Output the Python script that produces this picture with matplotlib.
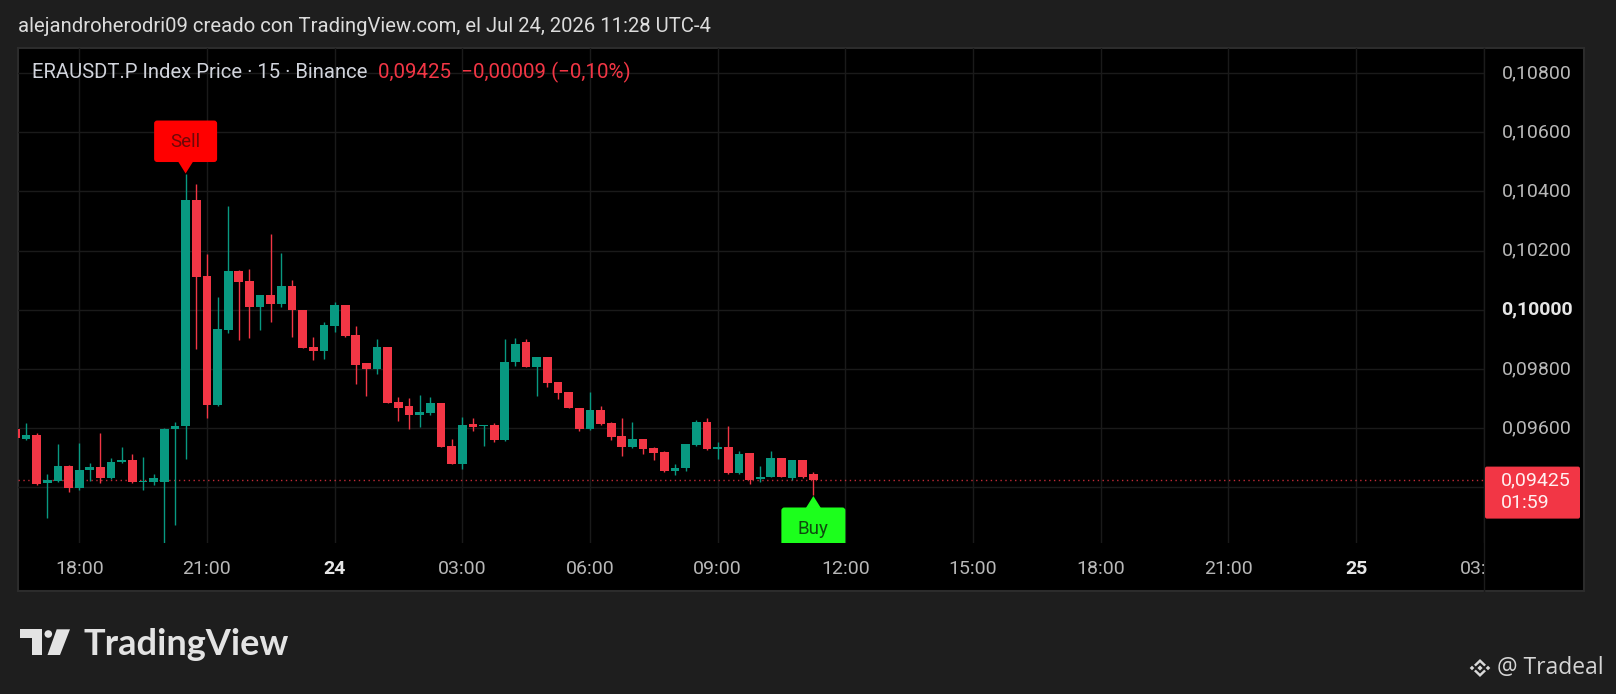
import matplotlib
matplotlib.use("Agg")
import matplotlib.pyplot as plt
import matplotlib.transforms as mtransforms
from matplotlib.patches import Rectangle, FancyBboxPatch, Polygon, Circle
import numpy as np

W, H = 1616, 694

# ERAUSDT.P 15m candles, Jul 23 16:30 -> Jul 24 11:15
opens = [0.09597, 0.09565, 0.09576, 0.09414, 0.09421, 0.09472, 0.09397, 0.09458, 0.09470, 0.09433,
         0.09486, 0.09493, 0.09419, 0.09420, 0.09420, 0.09597, 0.09608, 0.10371, 0.10113, 0.09679,
         0.09932, 0.10130, 0.10096, 0.10009, 0.10049, 0.10020, 0.10082, 0.10000, 0.09873, 0.09862,
         0.09947, 0.10015, 0.09915, 0.09820, 0.09802, 0.09876, 0.09689, 0.09674, 0.09644, 0.09650,
         0.09687, 0.09540, 0.09478, 0.09614, 0.09608, 0.09610, 0.09559, 0.09823, 0.09890, 0.09808,
         0.09840, 0.09757, 0.09722, 0.09669, 0.09597, 0.09661, 0.09618, 0.09573, 0.09537, 0.09563,
         0.09533, 0.09520, 0.09455, 0.09466, 0.09542, 0.09620, 0.09531, 0.09537, 0.09449, 0.09516,
         0.09428, 0.09437, 0.09501, 0.09432, 0.09492, 0.09444]
highs = [0.09600, 0.09619, 0.09585, 0.09444, 0.09548, 0.09475, 0.09551, 0.09484, 0.09585, 0.09498,
         0.09537, 0.09514, 0.09503, 0.09446, 0.09600, 0.09621, 0.10459, 0.10425, 0.10190, 0.10043,
         0.10350, 0.10135, 0.10139, 0.10052, 0.10258, 0.10192, 0.10102, 0.10000, 0.09910, 0.09958,
         0.10028, 0.10015, 0.09946, 0.09820, 0.09900, 0.09876, 0.09706, 0.09704, 0.09712, 0.09706,
         0.09687, 0.09565, 0.09638, 0.09636, 0.09612, 0.09618, 0.09901, 0.09906, 0.09901, 0.09842,
         0.09840, 0.09757, 0.09722, 0.09669, 0.09723, 0.09675, 0.09620, 0.09636, 0.09621, 0.09565,
         0.09536, 0.09523, 0.09480, 0.09548, 0.09627, 0.09636, 0.09554, 0.09607, 0.09523, 0.09518,
         0.09472, 0.09523, 0.09501, 0.09494, 0.09494, 0.09452]
lows = [0.09562, 0.09562, 0.09410, 0.09297, 0.09418, 0.09385, 0.09393, 0.09421, 0.09416, 0.09430,
        0.09484, 0.09416, 0.09393, 0.09410, 0.09207, 0.09272, 0.09495, 0.09868, 0.09634, 0.09675,
        0.09921, 0.09898, 0.09905, 0.09932, 0.09958, 0.10009, 0.09907, 0.09870, 0.09830, 0.09834,
        0.09927, 0.09910, 0.09749, 0.09710, 0.09785, 0.09685, 0.09625, 0.09599, 0.09605, 0.09644,
        0.09537, 0.09478, 0.09463, 0.09591, 0.09539, 0.09554, 0.09556, 0.09810, 0.09806, 0.09708,
        0.09740, 0.09698, 0.09667, 0.09590, 0.09595, 0.09612, 0.09562, 0.09505, 0.09534, 0.09512,
        0.09492, 0.09453, 0.09441, 0.09455, 0.09540, 0.09526, 0.09497, 0.09447, 0.09447, 0.09412,
        0.09418, 0.09435, 0.09437, 0.09424, 0.09433, 0.09373]
closes = [0.09566, 0.09576, 0.09412, 0.09425, 0.09472, 0.09397, 0.09458, 0.09470, 0.09433, 0.09486,
          0.09493, 0.09419, 0.09420, 0.09433, 0.09597, 0.09608, 0.10371, 0.10111, 0.09679, 0.09936,
          0.10130, 0.10094, 0.10009, 0.10049, 0.10020, 0.10082, 0.09998, 0.09871, 0.09862, 0.09950,
          0.10015, 0.09913, 0.09815, 0.09802, 0.09876, 0.09687, 0.09670, 0.09644, 0.09655, 0.09687,
          0.09537, 0.09478, 0.09612, 0.09605, 0.09610, 0.09559, 0.09823, 0.09885, 0.09808, 0.09840,
          0.09754, 0.09720, 0.09667, 0.09597, 0.09661, 0.09614, 0.09571, 0.09537, 0.09563, 0.09529,
          0.09516, 0.09455, 0.09466, 0.09546, 0.09620, 0.09529, 0.09537, 0.09449, 0.09514, 0.09427,
          0.09437, 0.09501, 0.09437, 0.09492, 0.09436, 0.09425]

first_candle_hour = 16.5          # hours from Jul 23 00:00
candle_step = 0.25                # 15 minutes

price_ticks = [0.092, 0.094, 0.096, 0.098, 0.100, 0.102, 0.104, 0.106, 0.108]
time_tick_hours = [18, 21, 24, 27, 30, 33, 36, 39, 42, 45, 48, 51]
time_tick_labels = ["18:00", "21:00", "24", "03:00", "06:00", "09:00",
                    "12:00", "15:00", "18:00", "21:00", "25", "03:00"]
bold_time_labels = ["24", "25"]

last_price = 0.09425
countdown = "01:59"
header = "alejandroherodri09 creado con TradingView.com, el Jul 24, 2026 11:28 UTC-4"
legend_name = "ERAUSDT.P Index Price · 15 · Binance"
legend_values = "0,09425  \u22120,00009 (\u22120,10%)"

UP = "#089981"
DOWN = "#f23645"
GRID = "#1a1a1a"
TXT = "#d1d4dc"

plt.rcParams["font.family"] = ["Roboto", "DejaVu Sans"]


def fmt_price(v):
    return ("%.5f" % v).replace(".", ",")


def fx(x):
    return x / W


def fy(y):
    return 1 - y / H


fig = plt.figure(figsize=(W / 100, H / 100), dpi=100, facecolor="#1e1e1e")

# chart panel
fig.add_artist(Rectangle((fx(17.5), fy(591)), (1584 - 17.5) / W, (591 - 48) / H,
                         transform=fig.transFigure, facecolor="black",
                         edgecolor="#2c2c2c", linewidth=1.5, zorder=-5))
fig.add_artist(plt.Line2D([fx(1484), fx(1484)], [fy(591), fy(48)],
                          transform=fig.transFigure, color="#1c1c1c", lw=1, zorder=-4))

ax = fig.add_axes([fx(17.5), fy(543), (1484 - 17.5) / W, (543 - 48.4) / H])
ax.set_axis_off()
ax.set_xlim(16.55, 51.007)
ax.set_ylim(0.092125, 0.108834)

for p in price_ticks:
    ax.axhline(p, color=GRID, lw=1, zorder=0)
for h in time_tick_hours:
    ax.axvline(h, color=GRID, lw=1, zorder=0)

o = np.array(opens)
hi = np.array(highs)
lo = np.array(lows)
c = np.array(closes)
x = first_candle_hour + candle_step * np.arange(len(o))
cols = [UP if cc >= oo else DOWN for oo, cc in zip(o, c)]

ax.vlines(x, lo, hi, colors=cols, lw=1, zorder=2)
body = np.maximum(np.abs(c - o), 0.000035)
ax.bar(x, body, width=candle_step * 0.82, bottom=np.minimum(o, c), color=cols,
       linewidth=0, zorder=3)

ax.axhline(last_price, color=DOWN, lw=1, ls=(0, (1, 2.5)), alpha=0.8, zorder=1)

# sell / buy markers (drawn in pixels around the candle tip)
ident = mtransforms.IdentityTransform()
i_sell = int(np.argmax(hi))
sx, sy = ax.transData.transform((x[i_sell], hi[i_sell]))
ax.add_patch(FancyBboxPatch((sx - 31.5, sy + 12), 63, 41.5,
                            boxstyle="round,pad=0,rounding_size=3",
                            transform=ident, facecolor="#ff0000", edgecolor="none", zorder=5))
ax.add_patch(Polygon([(sx - 7.5, sy + 12.5), (sx, sy + 0.5), (sx + 7.5, sy + 12.5)],
                     transform=ident, facecolor="#ff0000", edgecolor="none", zorder=5))
ax.text(sx, sy + 32.5, "Sell", transform=ident, ha="center", va="center",
        fontsize=13.5, color="#6e0808", zorder=6)

i_buy = len(o) - 1
bx, by = ax.transData.transform((x[i_buy], lo[i_buy]))
ax.add_patch(FancyBboxPatch((bx - 32, by - 54), 64, 42,
                            boxstyle="round,pad=0,rounding_size=3",
                            transform=ident, facecolor="#1cff1c", edgecolor="none", zorder=5))
ax.add_patch(Polygon([(bx - 7.5, by - 12.5), (bx, by - 0.5), (bx + 7.5, by - 12.5)],
                     transform=ident, facecolor="#1cff1c", edgecolor="none", zorder=5))
ax.text(bx, by - 33.5, "Buy", transform=ident, ha="center", va="center",
        fontsize=13.5, color="#0f4a0f", zorder=6, clip_on=True)

# price scale
yblend = mtransforms.blended_transform_factory(fig.transFigure, ax.transData)
for p in price_ticks:
    if p < 0.0955:
        continue
    bold = abs(p - 0.1) < 1e-9
    fig.text(fx(1537), p, fmt_price(p), transform=yblend, ha="center", va="center",
             fontsize=14, color="#e6e6e6" if bold else "#b8b8b8",
             fontweight="bold" if bold else "normal")

py = ax.transData.transform((x[-1], last_price))[1]
fig.add_artist(FancyBboxPatch((1485, py - 38.5), 95, 52,
                              boxstyle="round,pad=0,rounding_size=2",
                              transform=ident, facecolor=DOWN, edgecolor="none", zorder=3))
fig.text(1501, py, fmt_price(last_price), transform=ident, ha="left", va="center",
         fontsize=14, color="#fff0f1", zorder=4)
fig.text(1501, py - 23, countdown, transform=ident, ha="left", va="center",
         fontsize=14, color="#fff0f1", zorder=4)

# time scale (labels clipped at the price scale, like the cut "03:" on the right)
tax = fig.add_axes([fx(17.5), fy(591), (1484 - 17.5) / W, (591 - 543) / H])
tax.set_axis_off()
tax.set_xlim(ax.get_xlim())
tax.set_ylim(0, 1)
for h, lab in zip(time_tick_hours, time_tick_labels):
    bold = lab in bold_time_labels
    tt = tax.text(h, (591 - 569) / 48, lab, ha="center", va="center", fontsize=14,
                  color="#e6e6e6" if bold else "#b8b8b8",
                  fontweight="bold" if bold else "normal", clip_on=True)
    tt.set_clip_box(tax.bbox)

# header and legend
fig.text(fx(17.5), fy(26), header, ha="left", va="center", fontsize=14.6, color="#dcdcdc")
fig.text(fx(32), fy(72), legend_name, ha="left", va="center", fontsize=14.6, color=TXT)
fig.text(fx(378), fy(72), legend_values, ha="left", va="center", fontsize=14.8, color=DOWN)

# footer: TradingView logo
tp = mtransforms.Affine2D().scale(1, -1).translate(0, H)
LOGO = "#e3e3e3"
fig.add_artist(Polygon([(20, 629.3), (41.7, 629.3), (41.7, 655), (31.7, 655),
                        (31.7, 637.5), (20, 637.5)], transform=tp, facecolor=LOGO,
                       edgecolor="none"))
fig.add_artist(Circle((48.3, 634), 3.8, transform=tp, facecolor=LOGO, edgecolor="none"))
fig.add_artist(Polygon([(56.7, 629.3), (70, 629.3), (60, 655), (47.5, 655)], transform=tp,
                       facecolor=LOGO, edgecolor="none"))
fig.text(fx(83), fy(655), "TradingView", ha="left", va="baseline", fontsize=26,
         fontweight="bold", color=LOGO, family=["Lato", "DejaVu Sans"])

# footer: binance mark + handle
cx, cy = 1480, 668
ICON = "#d9d9d9"
for dx, dy, r in [(0, 0, 2.6), (-8, 0, 2.3), (8, 0, 2.3)]:
    fig.add_artist(Polygon([(cx + dx - r, cy + dy), (cx + dx, cy + dy - r),
                            (cx + dx + r, cy + dy), (cx + dx, cy + dy + r)],
                           transform=tp, facecolor=ICON, edgecolor="none"))
for s in (-1, 1):
    fig.add_artist(Polygon([(cx - 6, cy + s * 3.2), (cx, cy + s * 9), (cx + 6, cy + s * 3.2),
                            (cx + 4.2, cy + s * 1.6), (cx, cy + s * 5.6), (cx - 4.2, cy + s * 1.6)],
                           transform=tp, facecolor=ICON, edgecolor="none"))
fig.text(fx(1497), fy(668), "@ Tradeal", ha="left", va="center", fontsize=16.5,
         color="#d5d5d5", family=["Open Sans", "DejaVu Sans"])

fig.savefig("out.png", dpi=100, facecolor=fig.get_facecolor())
